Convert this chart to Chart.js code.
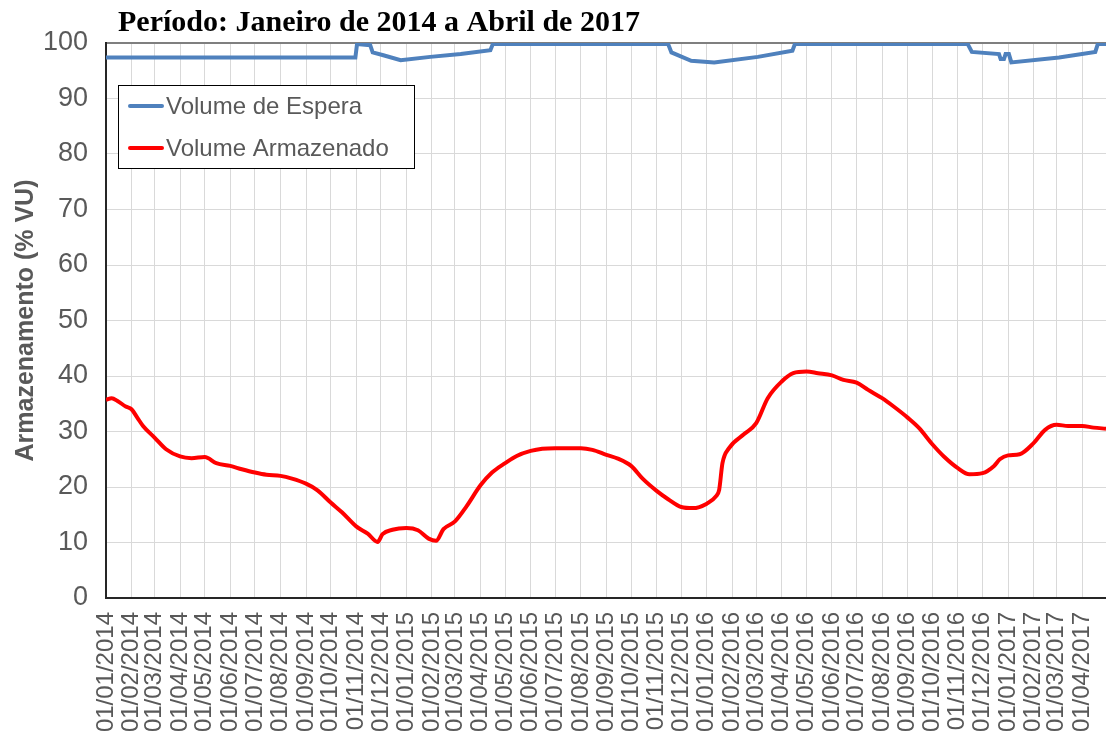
<!DOCTYPE html>
<html>
<head>
<meta charset="utf-8">
<script src="https://cdn.jsdelivr.net/npm/chart.js@4.4.1/dist/chart.umd.min.js"></script>
<style>
  html, body { margin: 0; padding: 0; background: #fff; }
</style>
</head>
<body>
<canvas id="grafico" width="1106" height="743"></canvas>
<script>
const titulo = 'Período: Janeiro de 2014 a Abril de 2017';

const meses = [
  '01/01/2014', '01/02/2014', '01/03/2014', '01/04/2014', '01/05/2014', '01/06/2014',
  '01/07/2014', '01/08/2014', '01/09/2014', '01/10/2014', '01/11/2014', '01/12/2014',
  '01/01/2015', '01/02/2015', '01/03/2015', '01/04/2015', '01/05/2015', '01/06/2015',
  '01/07/2015', '01/08/2015', '01/09/2015', '01/10/2015', '01/11/2015', '01/12/2015',
  '01/01/2016', '01/02/2016', '01/03/2016', '01/04/2016', '01/05/2016', '01/06/2016',
  '01/07/2016', '01/08/2016', '01/09/2016', '01/10/2016', '01/11/2016', '01/12/2016',
  '01/01/2017', '01/02/2017', '01/03/2017', '01/04/2017'
];

// Volume de Espera (% VU)
const esperaDatas = [
  '2014-01-01', '2014-10-31', '2014-11-02', '2014-11-18', '2014-11-21', '2014-12-04',
  '2014-12-25', '2015-01-30', '2015-03-08', '2015-04-13', '2015-04-16', '2015-11-15',
  '2015-11-19', '2015-12-13', '2016-01-10', '2016-03-03', '2016-04-14', '2016-04-17',
  '2016-11-13', '2016-11-18', '2016-12-21', '2016-12-23', '2016-12-27', '2016-12-29',
  '2017-01-02', '2017-01-05', '2017-03-04', '2017-04-17', '2017-04-20', '2017-04-30'
];
const esperaValores = [
  97.4, 97.4, 99.8, 99.6, 98.3, 97.8,
  96.9, 97.5, 98.0, 98.7, 99.8, 99.8,
  98.3, 96.8, 96.5, 97.5, 98.6, 99.8,
  99.8, 98.4, 98.0, 97.1, 97.1, 98.0,
  98.0, 96.5, 97.4, 98.4, 99.8, 99.8
];

// Volume Armazenado (% VU)
const armDatas = [
  '2014-01-01', '2014-01-08', '2014-01-15', '2014-01-25', '2014-02-01', '2014-02-08',
  '2014-02-15', '2014-03-01', '2014-03-15', '2014-04-01', '2014-04-15', '2014-05-01',
  '2014-05-15', '2014-06-01', '2014-06-15', '2014-07-01', '2014-07-15', '2014-08-01',
  '2014-08-15', '2014-09-01', '2014-09-15', '2014-10-01', '2014-10-15', '2014-11-01',
  '2014-11-15', '2014-11-27', '2014-12-03', '2014-12-15', '2015-01-01', '2015-01-15',
  '2015-01-28', '2015-02-06', '2015-02-15', '2015-03-01', '2015-03-15', '2015-04-01',
  '2015-04-15', '2015-05-01', '2015-05-15', '2015-06-01', '2015-06-15', '2015-07-01',
  '2015-07-15', '2015-08-01', '2015-08-15', '2015-09-01', '2015-09-15', '2015-10-01',
  '2015-10-15', '2015-11-01', '2015-11-15', '2015-12-01', '2015-12-15', '2016-01-01',
  '2016-01-12', '2016-01-16', '2016-01-20', '2016-01-28', '2016-02-15', '2016-03-01',
  '2016-03-15', '2016-04-01', '2016-04-15', '2016-05-01', '2016-05-15', '2016-06-01',
  '2016-06-15', '2016-07-01', '2016-07-15', '2016-08-01', '2016-08-15', '2016-09-01',
  '2016-09-15', '2016-10-01', '2016-10-15', '2016-11-01', '2016-11-15', '2016-12-01',
  '2016-12-15', '2016-12-22', '2017-01-01', '2017-01-15', '2017-02-01', '2017-02-15',
  '2017-03-01', '2017-03-15', '2017-04-01', '2017-04-15', '2017-04-30'
];
const armValores = [
  35.7, 36.0, 35.5, 34.5, 34.0, 32.5,
  31.0, 28.9, 26.8, 25.5, 25.2, 25.4,
  24.3, 23.8, 23.2, 22.6, 22.2, 22.0,
  21.5, 20.6, 19.4, 17.2, 15.4, 12.9,
  11.6, 10.1, 11.5, 12.3, 12.6, 12.2,
  10.7, 10.3, 12.4, 13.8, 16.5, 20.3,
  22.6, 24.3, 25.6, 26.5, 26.9, 27.0,
  27.0, 27.0, 26.7, 25.8, 25.1, 23.8,
  21.5, 19.3, 17.8, 16.4, 16.2, 17.0,
  18.3, 19.5, 24.3, 27.0, 29.5, 31.5,
  36.0, 39.0, 40.5, 40.8, 40.5, 40.1,
  39.3, 38.8, 37.5, 36.0, 34.5, 32.5,
  30.6, 27.7, 25.5, 23.4, 22.3, 22.5,
  23.8, 25.0, 25.7, 25.9, 27.9, 30.3,
  31.2, 31.0, 31.0, 30.7, 30.5
];

// dias desde 01/01/2014
const inicio = Date.UTC(2014, 0, 1);
function dia(iso) {
  const [a, m, d] = iso.split('-').map(Number);
  return Math.round((Date.UTC(a, m - 1, d) - inicio) / 86400000);
}
function diaBr(br) {
  const [d, m, a] = br.split('/');
  return dia(a + '-' + m + '-' + d);
}
const mesDias = meses.map(diaBr);

const cinza = '#595959';
const fonte = "'Liberation Sans', Arial, sans-serif";

const tituloPlugin = {
  id: 'tituloPlugin',
  afterDraw(chart) {
    const ctx = chart.ctx;
    ctx.save();
    ctx.font = "bold 30px 'Liberation Serif', 'Times New Roman', serif";
    ctx.fillStyle = '#000';
    ctx.textBaseline = 'alphabetic';
    ctx.fillText(titulo, chart.chartArea.left + 12, 31);
    ctx.restore();
  }
};

const legendaPlugin = {
  id: 'legendaPlugin',
  afterDatasetsDraw(chart) {
    const ctx = chart.ctx;
    const x = chart.chartArea.left + 12, y = 85;
    ctx.save();
    ctx.fillStyle = '#fff';
    ctx.fillRect(x, y, 296, 83);
    ctx.strokeStyle = '#000';
    ctx.lineWidth = 1;
    ctx.strokeRect(x + 0.5, y + 0.5, 296, 83);
    ctx.font = '24px ' + fonte;
    ctx.textBaseline = 'middle';
    chart.data.datasets.forEach((ds, i) => {
      const ly = y + 21 + i * 42;
      ctx.strokeStyle = ds.borderColor;
      ctx.lineWidth = 4;
      ctx.lineCap = 'round';
      ctx.beginPath();
      ctx.moveTo(x + 12, ly);
      ctx.lineTo(x + 44, ly);
      ctx.stroke();
      ctx.fillStyle = cinza;
      ctx.fillText(ds.label, x + 48, ly + 1);
    });
    ctx.restore();
  }
};

new Chart(document.getElementById('grafico'), {
  type: 'line',
  data: {
    datasets: [
      {
        label: 'Volume de Espera',
        data: esperaDatas.map((d, i) => ({ x: dia(d), y: esperaValores[i] })),
        borderColor: '#4F81BD',
        borderWidth: 4,
        pointRadius: 0,
        tension: 0
      },
      {
        label: 'Volume Armazenado',
        data: armDatas.map((d, i) => ({ x: dia(d), y: armValores[i] })),
        borderColor: '#FF0000',
        borderWidth: 4,
        pointRadius: 0,
        cubicInterpolationMode: 'monotone'
      }
    ]
  },
  options: {
    responsive: false,
    animation: false,
    layout: { padding: { top: 43, left: 0, right: 0, bottom: 0 } },
    plugins: {
      legend: { display: false },
      title: { display: false },
      tooltip: { enabled: false }
    },
    scales: {
      x: {
        type: 'linear',
        min: 0,
        max: dia('2017-04-30'),
        afterBuildTicks(scale) {
          scale.ticks = mesDias.map(v => ({ value: v }));
        },
        afterFit(scale) {
          scale.height = 145;
          scale.paddingLeft = 0;
          scale.paddingRight = 0;
        },
        grid: { color: '#D9D9D9', lineWidth: 1, drawTicks: false },
        border: { color: '#262626', width: 2 },
        ticks: {
          autoSkip: false,
          minRotation: 90,
          maxRotation: 90,
          padding: 14,
          color: cinza,
          font: { family: fonte, size: 24 },
          callback: (v, i) => meses[i]
        }
      },
      y: {
        min: 0,
        max: 100,
        afterFit(scale) {
          scale.width = 106;
        },
        grid: {
          color: c => (c.tick && c.tick.value === 100 ? '#7F7F7F' : '#D9D9D9'),
          lineWidth: c => (c.tick && c.tick.value === 100 ? 2 : 1),
          drawTicks: false
        },
        border: { color: '#262626', width: 2 },
        ticks: {
          stepSize: 10,
          padding: 18,
          color: cinza,
          font: { family: fonte, size: 27 }
        },
        title: {
          display: true,
          text: 'Armazenamento (% VU)',
          color: cinza,
          font: { family: fonte, size: 25, weight: 'bold' },
          padding: { top: 11, bottom: 0 }
        }
      }
    }
  },
  plugins: [tituloPlugin, legendaPlugin]
});
</script>
</body>
</html>
